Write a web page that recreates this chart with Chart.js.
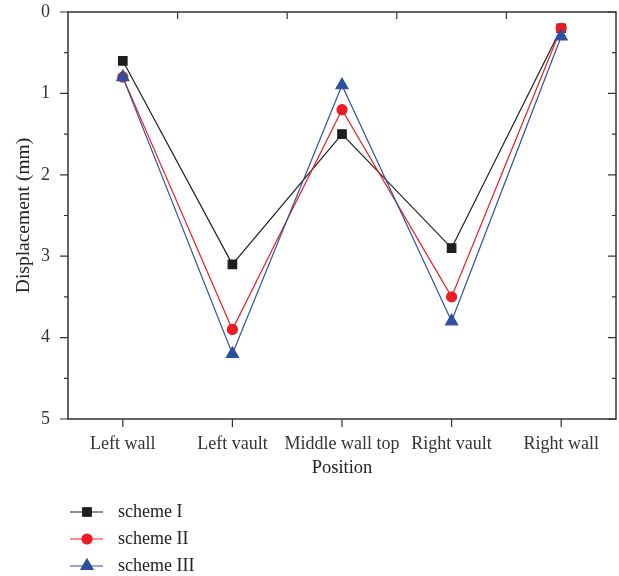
<!DOCTYPE html>
<html>
<head>
<meta charset="utf-8">
<script src="https://cdn.jsdelivr.net/npm/chart.js@4.4.0/dist/chart.umd.min.js"></script>
<style>
  html, body { margin: 0; padding: 0; background: #fff; }
  #wrap { width: 619px; height: 576px; }
</style>
</head>
<body>
<div id="wrap"><canvas id="chart"></canvas></div>
<script>
// values
const positions = ['Left wall', 'Left vault', 'Middle wall top', 'Right vault', 'Right wall'];
const schemeI = [0.6, 3.1, 1.5, 2.9, 0.2];
const schemeII = [0.8, 3.9, 1.2, 3.5, 0.2];
const schemeIII = [0.8, 4.2, 0.9, 3.8, 0.3];
const yTicks = [0, 1, 2, 3, 4, 5];

const FONT = "'Liberation Serif', 'DejaVu Serif', serif";
const AXIS = '#333';

// frame, ticks and the vertical legend underneath
const framePlugin = {
  id: 'frame',
  afterDraw(chart) {
    const { ctx, chartArea: a, scales: { x, y } } = chart;
    ctx.save();
    ctx.strokeStyle = AXIS;
    ctx.lineWidth = 1.5;
    ctx.strokeRect(a.left, a.top, a.right - a.left, a.bottom - a.top);

    ctx.lineWidth = 1.2;
    ctx.beginPath();
    for (let v = 0; v <= 5; v += 0.5) {
      const py = y.getPixelForValue(v);
      const len = Number.isInteger(v) ? 8 : 4;
      ctx.moveTo(a.left - len, py); ctx.lineTo(a.left, py);
      ctx.moveTo(a.right, py); ctx.lineTo(a.right - len, py);
    }
    positions.forEach((p, i) => {
      const px = x.getPixelForValue(i);
      ctx.moveTo(px, a.bottom); ctx.lineTo(px, a.bottom + 8);
      if (i > 0) {
        const mid = (px + x.getPixelForValue(i - 1)) / 2;
        ctx.moveTo(mid, a.top); ctx.lineTo(mid, a.top + 7);
      }
    });
    ctx.stroke();

    // legend
    ctx.font = '18px ' + FONT;
    ctx.textBaseline = 'middle';
    ctx.textAlign = 'left';
    chart.data.datasets.forEach((ds, i) => {
      const ly = 512 + i * 27;
      ctx.strokeStyle = ds.borderColor;
      ctx.lineWidth = 1.2;
      ctx.beginPath();
      ctx.moveTo(70, ly); ctx.lineTo(103, ly);
      ctx.stroke();
      Chart.helpers.drawPoint(ctx, {
        pointStyle: ds.pointStyle,
        radius: ds.pointRadius,
        borderWidth: 1
      }, 87, ly);
      ctx.fillStyle = ds.pointBackgroundColor;
      ctx.fill();
      ctx.fillStyle = '#222';
      ctx.fillText(ds.label, 118, ly);
    });
    ctx.restore();
  }
};

new Chart(document.getElementById('chart'), {
  type: 'line',
  data: {
    labels: positions,
    datasets: [
      {
        label: 'scheme I',
        data: schemeI,
        borderColor: '#1e1e1e',
        pointBackgroundColor: '#1e1e1e',
        pointBorderColor: '#1e1e1e',
        pointStyle: 'rect',
        pointRadius: 6,
        borderWidth: 1.2,
        order: 3
      },
      {
        label: 'scheme II',
        data: schemeII,
        borderColor: '#ec1c24',
        pointBackgroundColor: '#ec1c24',
        pointBorderColor: '#ec1c24',
        pointStyle: 'circle',
        pointRadius: 5,
        borderWidth: 1.2,
        order: 2
      },
      {
        label: 'scheme III',
        data: schemeIII,
        borderColor: '#2e4f9e',
        pointBackgroundColor: '#2e4f9e',
        pointBorderColor: '#2e4f9e',
        pointStyle: 'triangle',
        pointRadius: 7,
        borderWidth: 1.2,
        order: 1
      }
    ]
  },
  options: {
    responsive: true,
    maintainAspectRatio: false,
    animation: false,
    layout: { autoPadding: false, padding: { top: 12, right: 3, bottom: 97, left: 0 } },
    plugins: {
      legend: { display: false },
      tooltip: { enabled: false }
    },
    elements: { line: { tension: 0 } },
    scales: {
      x: {
        type: 'category',
        offset: true,
        grid: { display: false },
        border: { display: false },
        ticks: { color: AXIS, padding: 6, maxRotation: 0, minRotation: 0, autoSkip: false, font: { family: FONT, size: 18 } },
        title: { display: true, text: 'Position', color: '#222', padding: { top: 0, bottom: 0 }, font: { family: FONT, size: 18.5 } },
        afterFit: s => { s.height = 60; }
      },
      y: {
        min: 0,
        max: 5,
        reverse: true,
        afterBuildTicks: s => { s.ticks = yTicks.map(v => ({ value: v })); },
        grid: { display: false },
        border: { display: false },
        ticks: { color: AXIS, padding: 10, font: { family: FONT, size: 18 } },
        title: { display: true, text: 'Displacement (mm)', color: '#222', padding: { top: 12, bottom: 0 }, font: { family: FONT, size: 19.5 } },
        afterFit: s => { s.width = 68; s.paddingTop = 0; s.paddingBottom = 0; }
      }
    }
  },
  plugins: [framePlugin]
});
</script>
</body>
</html>
